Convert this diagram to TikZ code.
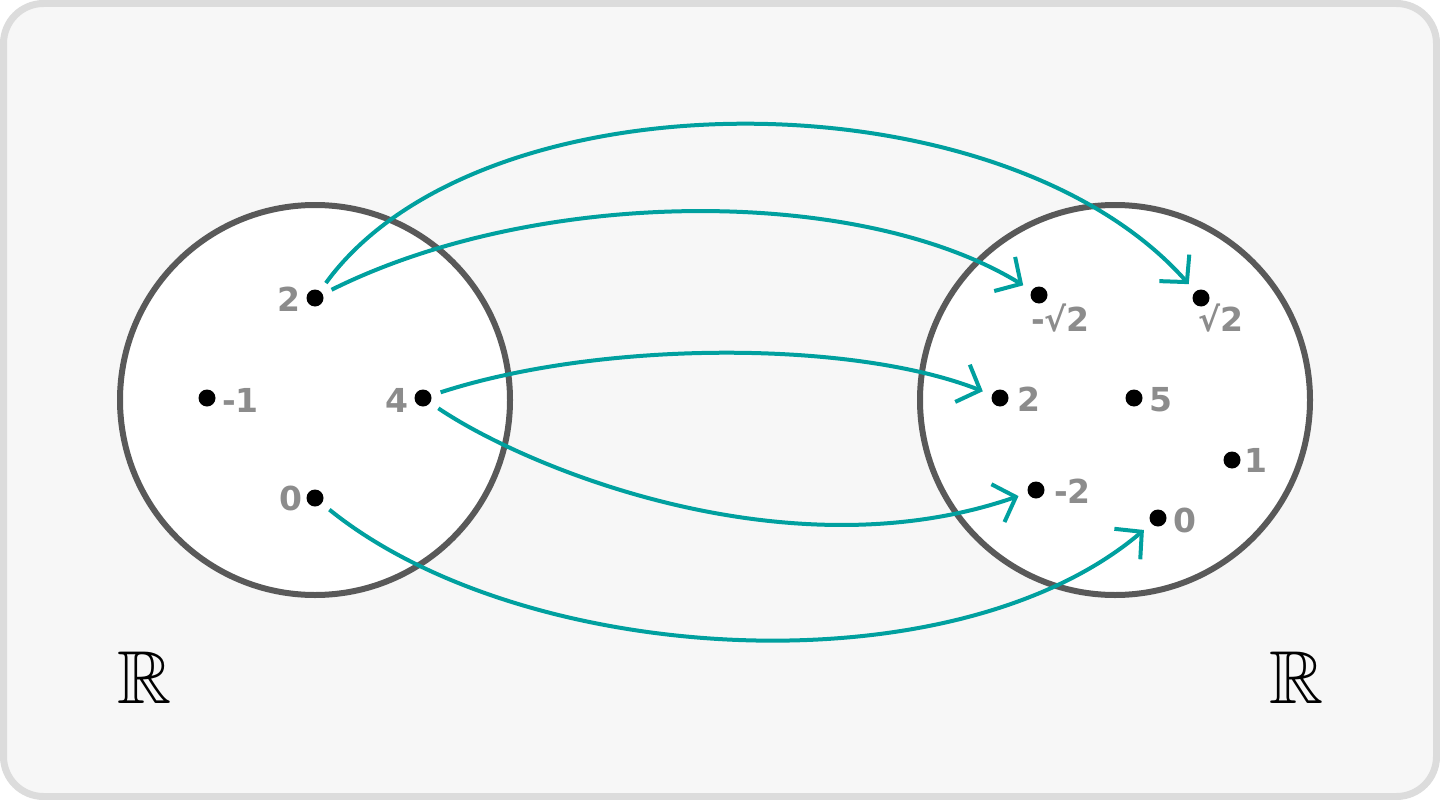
\documentclass[tikz,border=0pt]{standalone}
\usepackage{amssymb}
\usepackage{fontspec}
\newfontfamily\lblfont{DejaVu Sans}
\usetikzlibrary{arrows.meta}
\definecolor{bgfill}{HTML}{F7F7F7}
\definecolor{bgline}{HTML}{DCDCDC}
\definecolor{ringgray}{HTML}{595959}
\definecolor{teal2}{HTML}{00A09F}
\definecolor{lblgray}{HTML}{8C8C8C}
\tikzset{
  ring/.style={draw=ringgray, line width=6pt, fill=white},
  pt/.style={circle, fill=black, inner sep=0pt, minimum size=17pt, outer sep=10pt},
  lbl/.style={text=lblgray, font=\lblfont\bfseries\fontsize{33}{38}\selectfont, inner sep=0pt, text height=25pt, text depth=0pt},
  setname/.style={font=\fontsize{75}{80}\selectfont, inner sep=0pt},
  maparrow/.style={draw=teal2, line width=4pt, -{Straight Barb[length=19pt, width=40pt]}}
}
\begin{document}
\begin{tikzpicture}[x=1pt, y=-1pt]
\useasboundingbox (0,0) rectangle (1440,800);
\draw[draw=bgline, fill=bgfill, line width=7pt, rounded corners=40pt] (3.5,3.5) rectangle (1436.5,796.5);
% sets
\draw[ring] (315,400) circle[radius=195];
\draw[ring] (1115,400) circle[radius=195];
% domain points
\node[pt] (a2) at (315,298) {};
\node[pt] (am1) at (207,398) {};
\node[pt] (a4) at (423,398) {};
\node[pt] (a0) at (315,498) {};
% codomain points
\node[pt] (bmr) at (1039,295) {};
\node[pt] (br) at (1201,298) {};
\node[pt] (b2) at (1000,398) {};
\node[pt] (b5) at (1134,398) {};
\node[pt] (b1) at (1232,460) {};
\node[pt] (bm2) at (1036,490) {};
\node[pt] (b0) at (1158,518) {};
% labels
\node[lbl, anchor=east] (la2) at (301,299) {2};
\node[lbl, anchor=west] (lam1) at (222,400) {-1};
\node[lbl, anchor=east] (la4) at (409,400) {4};
\node[lbl, anchor=east] (la0) at (303,498) {0};
\node[lbl, anchor=west] (lbmr) at (1031,319) {-√2};
\node[lbl, anchor=west] (lbr) at (1198,319) {√2};
\node[lbl, anchor=west] (lb2) at (1017,399) {2};
\node[lbl, anchor=west] (lb5) at (1149,399) {5};
\node[lbl, anchor=west] (lb1) at (1244,460) {1};
\node[lbl, anchor=west] (lbm2) at (1054,491) {-2};
\node[lbl, anchor=west] (lb0) at (1173,520) {0};
% set names
\node[setname] (RL) at (145,678) {$\mathbb{R}$};
\node[setname] (RR) at (1297,678) {$\mathbb{R}$};
% mapping arrows
\draw[maparrow] (a2) .. controls (480,71) and (1000,71) .. (br);
\draw[maparrow] (a2) .. controls (540,186) and (861,186) .. (bmr);
\draw[maparrow] (a4) .. controls (602,340) and (852,340) .. (b2);
\draw[maparrow] (a4) .. controls (530,470) and (790,575) .. (bm2);
\draw[maparrow] (a0) .. controls (524,667) and (953,692) .. (b0);
\end{tikzpicture}
\end{document}
